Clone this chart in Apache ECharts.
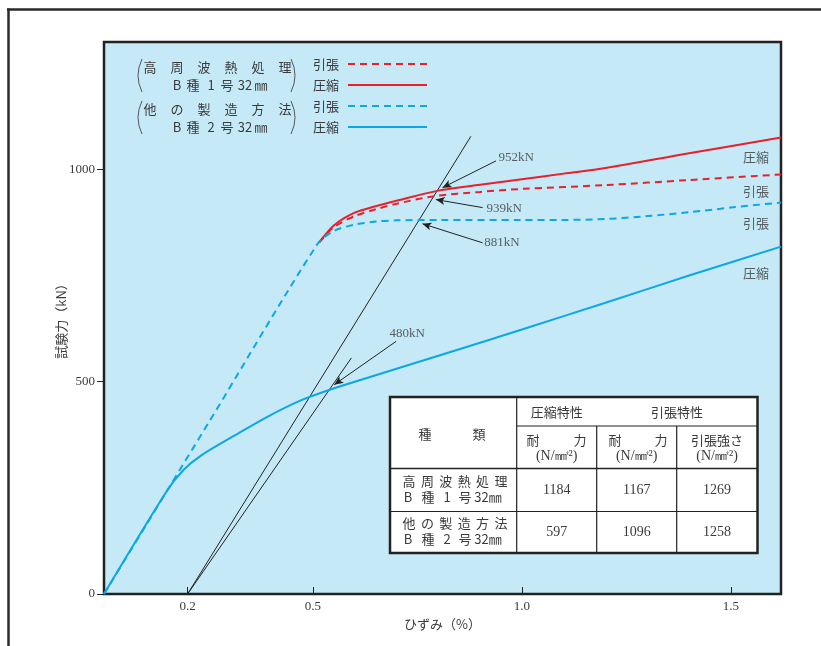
<!DOCTYPE html>
<html><head><meta charset="utf-8">
<script src="https://cdn.jsdelivr.net/npm/echarts@6/dist/echarts.min.js"></script>
<style>html,body{margin:0;padding:0;background:#fff}#c{width:821px;height:646px}</style>
</head><body><div id="c"></div>
<script>
// ---------------- data ----------------
const xTickValues = [0.2, 0.5, 1.0, 1.5];
const yTickValues = [0, 500, 1000];

// 高周波熱処理 B種1号32mm
const hfTenStrain = [0.515, 0.55, 0.6, 0.65, 0.7, 0.79, 0.9, 1.0, 1.2, 1.4, 1.62];
const hfTenLoad   = [828, 864, 890, 906, 919, 937, 947, 954, 963, 975, 988];
const hfCompStrain = [0.515, 0.55, 0.6, 0.65, 0.7, 0.8, 0.9, 1.0, 1.1, 1.2, 1.4, 1.62];
const hfCompLoad   = [828, 868, 898, 913, 926, 950, 964, 977, 990, 1003, 1038, 1075];

// 他の製造方法 B種2号32mm
const otTenStrain = [0, 0.25, 0.51, 0.55, 0.6, 0.65, 0.7, 0.8, 1.0, 1.1, 1.2, 1.3, 1.4, 1.5, 1.62];
const otTenLoad   = [0, 403, 823, 855, 870, 877, 880, 881, 881, 881, 883, 890, 899, 910, 922];
const otCompStrain = [0, 0.15, 0.19, 0.232, 0.312, 0.392, 0.471, 0.537, 0.6, 0.8, 1.0, 1.2, 1.4, 1.62];
const otCompLoad   = [0, 242, 292, 326, 373, 418, 456, 480, 500, 561, 623, 686, 750, 818];

// 0.2% offset lines
const offset1Strain = [0.2, 0.878];
const offset1Load   = [0, 1078];
const offset2Strain = [0.2, 0.592];
const offset2Load   = [0, 556];

// annotations
const annotValues = [952, 939, 881, 480];
const annotTextPos = [[0.943, 1028], [0.914, 908], [0.909, 828], [0.682, 613]];
const annotArrowFrom = [[0.938, 1020], [0.906, 910], [0.906, 827], [0.699, 595]];
const annotArrowTo   = [[0.81, 957], [0.794, 929], [0.762, 872], [0.551, 493]];

const curveLabels = ['圧縮', '引張', '引張', '圧縮'];
const curveLabelPos = [[1.56, 1028], [1.56, 950], [1.56, 873], [1.56, 755]];

// legend
const legendGroups = ['高周波熱処理', '他の製造方法'];
const legendSub = [['B','種','1','号','32','㎜'], ['B','種','2','号','32','㎜']];
const legendKinds = ['引張', '圧縮'];

// table
const tableHead1 = ['種', '類'];
const tableHead2 = ['圧縮特性', '引張特性'];
const tableHead3 = [['耐', '力'], ['耐', '力'], ['引張強さ']];
const tableUnit = '(N/㎟²)';
const tableRowNames = [['高','周','波','熱','処','理'], ['他','の','製','造','方','法']];
const tableRowSubs = [['B','種','1','号','32㎜'], ['B','種','2','号','32㎜']];
const tableCompYield = [1184, 597];
const tableTenYield = [1167, 1096];
const tableTenStrength = [1269, 1258];

// ---------------- helpers ----------------
const zip = (a, b) => a.map((v, i) => [v, b[i]]);
const RED = '#e8202b', BLUE = '#0ba7e6', INK = '#3a3a3a';
const CJK = "'Noto Sans CJK JP', sans-serif";
const SERIF = "'Liberation Serif', 'DejaVu Serif', serif";

function txt(text, x, y, size, font, align) {
  return { type: 'text', x: x, y: y, z: 100,
    style: { text: String(text), fill: INK, font: size + 'px ' + font,
      align: align || 'center', verticalAlign: 'middle',
      textAlign: align || 'center', textVerticalAlign: 'middle' } };
}
function spread(chars, x0, x1, y, size, font) {
  const n = chars.length;
  return chars.map((c, i) => txt(c, n === 1 ? (x0 + x1) / 2 : x0 + (x1 - x0) * i / (n - 1), y, size, font));
}
function line(x1, y1, x2, y2, w, color, dash) {
  return { type: 'line', z: 100, shape: { x1, y1, x2, y2 },
    style: { stroke: color || '#222', lineWidth: w || 1, lineDash: dash || null } };
}
function paren(x, y1, y2, dir) {
  return { type: 'bezierCurve', z: 100,
    shape: { x1: x, y1: y1, x2: x, y2: y2, cpx1: x + dir * 8, cpy1: (y1 + y2) / 2 },
    style: { stroke: '#555', lineWidth: 1, fill: null } };
}

// ---------------- graphics ----------------
const g = [];
// outer frame
g.push(line(7, 9.5, 821, 9.5, 2.5, '#2a2a2a'));
g.push(line(8.5, 8.5, 8.5, 646, 2.5, '#2a2a2a'));

// legend
const legY = [[67, 85], [109, 127]];
const legLineY = [[64, 85], [106, 127]];
const legSubX = [177, 193, 211, 227, 245, 261];
legendGroups.forEach((name, gi) => {
  g.push(...spread(name.split(''), 150, 285, legY[gi][0], 13, CJK));
  legendSub[gi].forEach((s, si) => g.push(txt(s, legSubX[si], legY[gi][1], 13, CJK)));
  g.push(paren(142, legY[gi][0] - 8, legY[gi][1] + 7, -1));
  g.push(paren(291, legY[gi][0] - 8, legY[gi][1] + 7, 1));
  legendKinds.forEach((k, ki) => {
    g.push(txt(k, 326, legLineY[gi][ki], 13, CJK));
    const col = gi === 0 ? RED : BLUE;
    g.push(line(348, legLineY[gi][ki], 427, legLineY[gi][ki], 2, col, ki === 0 ? [7, 5] : null));
  });
});

// table
const TL = 390, TR = 757.5, TT = 397, TB = 553;
const C1 = 516.7, C2 = 596.7, C3 = 676.7;
const R1 = 426, R2 = 468.5, R3 = 511.5;
g.push({ type: 'rect', z: 99, shape: { x: TL, y: TT, width: TR - TL, height: TB - TT },
  style: { fill: '#fff', stroke: '#222', lineWidth: 2.5 } });
g.push(line(C1, TT, C1, TB, 1.2));
g.push(line(C2, R1, C2, TB, 1.2));
g.push(line(C3, R1, C3, TB, 1.2));
g.push(line(C1, R1, TR, R1, 1.2));
g.push(line(TL, R2, TR, R2, 1.6));
g.push(line(TL, R3, TR, R3, 1.2));
g.push(...spread(tableHead1, 425, 479, 434, 13, CJK));
g.push(txt(tableHead2[0], (C1 + C2) / 2, 412, 13, CJK));
g.push(txt(tableHead2[1], (C2 + TR) / 2, 412, 13, CJK));
g.push(...spread(tableHead3[0], 533, 580, 440, 13, CJK));
g.push(...spread(tableHead3[1], 615, 661, 440, 13, CJK));
g.push(txt(tableHead3[2][0], (C3 + TR) / 2, 440, 13, CJK));
[(C1 + C2) / 2, (C2 + C3) / 2, (C3 + TR) / 2].forEach(cx => g.push(txt(tableUnit, cx, 456, 14, SERIF)));
const rowY = [[481, 497], [523, 539]];
const valY = [490, 532];
tableRowNames.forEach((chars, ri) => {
  g.push(...spread(chars, 409, 501, rowY[ri][0], 13, CJK));
  const subs = tableRowSubs[ri];
  const subX = [408, 428, 447, 465, 488];
  subs.forEach((s, si) => g.push(txt(s, subX[si], rowY[ri][1], 13, CJK)));
  g.push(txt(tableCompYield[ri], (C1 + C2) / 2, valY[ri], 14, SERIF));
  g.push(txt(tableTenYield[ri], (C2 + C3) / 2, valY[ri], 14, SERIF));
  g.push(txt(tableTenStrength[ri], (C3 + TR) / 2, valY[ri], 14, SERIF));
});

// ---------------- chart ----------------
const chart = echarts.init(document.getElementById('c'), null, { renderer: 'canvas' });
const common = { type: 'line', showSymbol: false, symbol: 'none', silent: true, clip: true };
const option = {
  animation: false,
  backgroundColor: '#fff',
  grid: { left: 104, right: 40, top: 42, bottom: 52, show: true,
    backgroundColor: '#c6e9f8', borderColor: '#222', borderWidth: 2.5 },
  xAxis: {
    type: 'value', min: 0, max: 1.62,
    name: 'ひずみ（%）', nameLocation: 'middle', nameGap: 24,
    nameTextStyle: { fontFamily: CJK, fontSize: 13, color: INK },
    axisLine: { show: false },
    axisTick: { show: true, inside: true, length: 7, customValues: xTickValues, lineStyle: { color: '#222', width: 1 } },
    axisLabel: { customValues: xTickValues, formatter: v => v.toFixed(1), margin: 6,
      fontFamily: SERIF, fontSize: 13, color: INK },
    splitLine: { show: false }
  },
  yAxis: {
    type: 'value', min: 0, max: 1300,
    name: '試験力（kN）', nameLocation: 'middle', nameGap: 36, nameRotate: 90, nameMoveOverlap: false,
    nameTextStyle: { fontFamily: CJK, fontSize: 13, color: INK },
    axisLine: { show: false },
    axisTick: { show: true, inside: false, length: 7, customValues: yTickValues, lineStyle: { color: '#222', width: 1 } },
    axisLabel: { customValues: yTickValues, formatter: v => String(v), margin: 9, fontFamily: SERIF, fontSize: 13, color: INK },
    splitLine: { show: false }
  },
  series: [
    Object.assign({}, common, { name: 'offset1', data: zip(offset1Strain, offset1Load), smooth: false,
      lineStyle: { color: '#222', width: 1 }, z: 3 }),
    Object.assign({}, common, { name: 'offset2', data: zip(offset2Strain, offset2Load), smooth: false,
      lineStyle: { color: '#222', width: 1 }, z: 3,
      markLine: { silent: true, symbol: ['none', 'arrow'], symbolSize: [6, 9], precision: 4,
        lineStyle: { color: '#222', width: 1, type: 'solid' }, label: { show: false },
        data: annotArrowFrom.map((p, i) => [{ coord: p }, { coord: annotArrowTo[i] }]) } }),
    Object.assign({}, common, { name: 'hfComp', data: zip(hfCompStrain, hfCompLoad), smooth: 0.3,
      lineStyle: { color: RED, width: 2 }, z: 4 }),
    Object.assign({}, common, { name: 'hfTen', data: zip(hfTenStrain, hfTenLoad), smooth: 0.3,
      lineStyle: { color: RED, width: 2, type: [7, 5] }, z: 4 }),
    Object.assign({}, common, { name: 'otTen', data: zip(otTenStrain, otTenLoad), smooth: 0.3,
      lineStyle: { color: BLUE, width: 2, type: [7, 5] }, z: 5 }),
    Object.assign({}, common, { name: 'otComp', data: zip(otCompStrain, otCompLoad), smooth: 0.3,
      lineStyle: { color: BLUE, width: 2 }, z: 4 }),
    { type: 'scatter', name: 'annot', silent: true, symbolSize: 1, itemStyle: { color: 'rgba(0,0,0,0)' }, z: 6,
      data: annotValues.map((v, i) => ({ value: annotTextPos[i], name: v + 'kN' })),
      label: { show: true, position: 'right', distance: 0, formatter: p => p.name,
        fontFamily: SERIF, fontSize: 13, color: INK } },
    { type: 'scatter', name: 'curveLabels', silent: true, symbolSize: 1, itemStyle: { color: 'rgba(0,0,0,0)' }, z: 6,
      data: curveLabels.map((t, i) => ({ value: curveLabelPos[i], name: t })),
      label: { show: true, position: 'inside', formatter: p => p.name,
        fontFamily: CJK, fontSize: 13, color: INK } }
  ],
  graphic: g
};
chart.setOption(option);
</script>
</body></html>
